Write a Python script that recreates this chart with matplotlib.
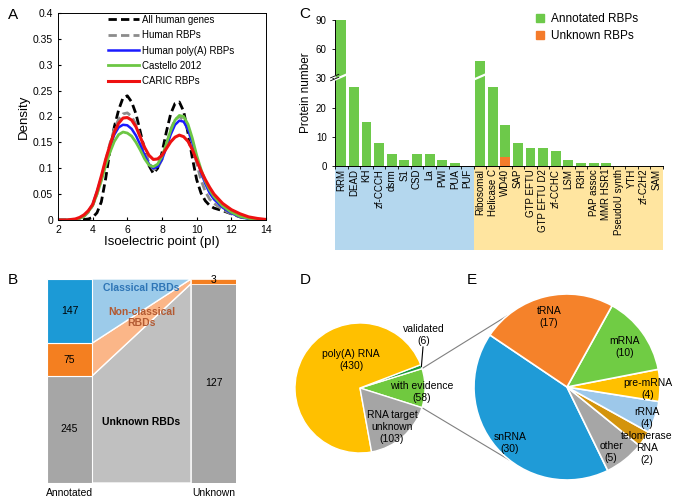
import matplotlib
matplotlib.use("Agg")
import matplotlib.pyplot as plt
import numpy as np
from matplotlib.patches import Patch, Rectangle, Polygon
import matplotlib.transforms as mtransforms

plt.rcParams["font.family"] = ["Liberation Sans", "DejaVu Sans"]

W, H = 690, 503

# ---- A: density of isoelectric point
pi_x = [2, 2.5, 3, 3.25, 3.5, 3.75, 4, 4.25, 4.5, 4.75, 5, 5.25, 5.5, 5.75, 6, 6.25,
        6.5, 6.75, 7, 7.25, 7.5, 7.75, 8, 8.25, 8.5, 8.75, 9, 9.25, 9.5, 9.75, 10,
        10.25, 10.5, 10.75, 11, 11.5, 12, 12.5, 13, 13.5, 14]
dens_all = [0, 0, 0, 0, 0.001, 0.002, 0.005, 0.014, 0.035, 0.08, 0.135, 0.18, 0.213,
            0.236, 0.24, 0.228, 0.205, 0.17, 0.135, 0.105, 0.09, 0.1, 0.13, 0.17, 0.205,
            0.225, 0.228, 0.21, 0.168, 0.12, 0.078, 0.052, 0.037, 0.028, 0.023, 0.018,
            0.012, 0.006, 0.002, 0, 0]
dens_rbp = [0, 0, 0.001, 0.003, 0.007, 0.015, 0.028, 0.05, 0.08, 0.115, 0.148, 0.176,
            0.195, 0.205, 0.207, 0.2, 0.185, 0.16, 0.135, 0.11, 0.098, 0.1, 0.117, 0.145,
            0.175, 0.194, 0.2, 0.193, 0.175, 0.148, 0.11, 0.077, 0.055, 0.04, 0.032,
            0.02, 0.012, 0.006, 0.002, 0, 0]
dens_polya = [0, 0, 0.001, 0.003, 0.008, 0.017, 0.03, 0.055, 0.082, 0.113, 0.142, 0.165,
              0.179, 0.184, 0.183, 0.176, 0.163, 0.145, 0.125, 0.108, 0.1, 0.103, 0.117,
              0.14, 0.165, 0.184, 0.192, 0.19, 0.175, 0.15, 0.12, 0.092, 0.07, 0.052,
              0.04, 0.024, 0.013, 0.006, 0.002, 0, 0]
dens_castello = [0, 0, 0.001, 0.003, 0.007, 0.016, 0.028, 0.05, 0.076, 0.105, 0.131,
                 0.152, 0.165, 0.17, 0.168, 0.162, 0.15, 0.135, 0.118, 0.106, 0.103,
                 0.108, 0.123, 0.147, 0.173, 0.193, 0.202, 0.2, 0.185, 0.158, 0.125,
                 0.098, 0.075, 0.058, 0.045, 0.027, 0.015, 0.007, 0.003, 0.001, 0]
dens_caric = [0, 0, 0.002, 0.005, 0.01, 0.018, 0.03, 0.055, 0.085, 0.117, 0.145, 0.17,
              0.187, 0.197, 0.198, 0.193, 0.18, 0.16, 0.14, 0.125, 0.117, 0.118, 0.125,
              0.138, 0.151, 0.16, 0.164, 0.161, 0.152, 0.136, 0.115, 0.095, 0.078,
              0.063, 0.05, 0.032, 0.02, 0.012, 0.006, 0.003, 0.001]

# ---- B: RBD composition
b_groups = ["Annotated", "Unknown"]
annotated_counts = [245, 75, 147]   # unknown RBD, non-classical, classical
unknown_counts = [127, 3, 0]

# ---- C: domain counts
classical_domains = ["RRM", "DEAD", "KH", "zf-CCCH", "dsrm", "S1", "CSD", "La",
                     "PWI", "PUA", "PUF"]
classical_annot = [90, 27, 15, 8, 4, 2, 4, 4, 2, 1, 0]
classical_unknown = [0, 0, 0, 0, 0, 0, 0, 0, 0, 0, 0]
other_domains = ["Ribosomal", "Helicase C", "WD40", "SAP", "GTP EFTU", "GTP EFTU D2",
                 "zf-CCHC", "LSM", "R3H", "PAP assoc", "MMR HSR1", "PseudoU synth",
                 "YTH", "zf-C2H2", "SAM"]
other_annot = [48, 27, 11, 8, 6, 6, 5, 2, 1, 1, 1, 0, 0, 0, 0]
other_unknown = [0, 0, 3, 0, 0, 0, 0, 0, 0, 0, 0, 0, 0, 0, 0]

# ---- D / E: RNA targets
d_labels = ["with evidence\n(58)", "", "poly(A) RNA\n(430)", "RNA target\nunknown\n(103)"]
d_values = [58, 6, 430, 103]
e_labels = ["snRNA", "other", "telomerase\nRNA", "rRNA", "pre-mRNA", "mRNA", "tRNA"]
e_values = [30, 5, 2, 4, 4, 10, 17]


def px_axes(fig, l, t, r, b):
    return fig.add_axes([l / W, 1 - b / H, (r - l) / W, (b - t) / H])


fig = plt.figure(figsize=(W / 100, H / 100), dpi=100)

# ================= A
ax = px_axes(fig, 58, 13, 266, 220)
ax.plot(pi_x, dens_all, color="black", ls=(0, (3, 1.5)), lw=2, label="All human genes")
ax.plot(pi_x, dens_rbp, color="#8c8c8c", ls=(0, (3, 1.5)), lw=2, label="Human RBPs")
ax.plot(pi_x, dens_polya, color="#1a1aff", lw=1.8, label="Human poly(A) RBPs")
ax.plot(pi_x, dens_castello, color="#6cc644", lw=2, label="Castello 2012")
ax.plot(pi_x, dens_caric, color="#ee1111", lw=2.2, label="CARIC RBPs")
ax.set_xlim(2, 14)
ax.set_ylim(0, 0.4)
ax.set_xticks(range(2, 15, 2))
ax.set_yticks(np.arange(0, 0.41, 0.05))
ax.set_yticklabels(["0", "0.05", "0.1", "0.15", "0.2", "0.25", "0.3", "0.35", "0.4"])
ax.tick_params(labelsize=7.5, length=2.5, direction="in")
ax.set_xlabel("Isoelectric point (pI)", fontsize=9.5, labelpad=1)
ax.set_ylabel("Density", fontsize=9.5, labelpad=2)
for s in ax.spines.values():
    s.set_linewidth(0.7)
ax.legend(loc="upper left", bbox_to_anchor=(0.22, 1.01), frameon=False, fontsize=7,
          handlelength=3.2, handletextpad=0.3, labelspacing=0.55, borderaxespad=0)

# ================= B
axb = px_axes(fig, 47, 279, 236, 483)
axb.set_xlim(0, 4.2)
axb.set_ylim(0, 1)
axb.axis("off")
a_frac = np.cumsum([0] + annotated_counts) / sum(annotated_counts)
u_frac = np.cumsum([0] + unknown_counts) / sum(unknown_counts)
bar_cols = ["#a6a6a6", "#f47f20", "#1c9ad6"]
band_cols = ["#c0c0c0", "#fbb688", "#9ccbea"]
x0, x1, x2, x3 = 0, 1, 3.2, 4.2
for i in range(3):
    axb.add_patch(Polygon([(x1, a_frac[i]), (x2, u_frac[i]), (x2, u_frac[i + 1]),
                           (x1, a_frac[i + 1])], closed=True, fc=band_cols[i],
                          ec="white", lw=1))
for i in range(3):
    axb.add_patch(Rectangle((x0, a_frac[i]), x1 - x0, a_frac[i + 1] - a_frac[i],
                            fc=bar_cols[i], ec="white", lw=0.8))
    if unknown_counts[i] > 0:
        axb.add_patch(Rectangle((x2, u_frac[i]), x3 - x2, u_frac[i + 1] - u_frac[i],
                                fc=bar_cols[i], ec="white", lw=0.5))
for i in range(3):
    axb.text((x0 + x1) / 2, (a_frac[i] + a_frac[i + 1]) / 2, str(annotated_counts[i]),
             ha="center", va="center", fontsize=7.5)
axb.text((x2 + x3) / 2, (u_frac[0] + u_frac[1]) / 2, str(unknown_counts[0]),
         ha="center", va="center", fontsize=7.5)
axb.text((x2 + x3) / 2, (u_frac[1] + u_frac[2]) / 2 + 0.005, str(unknown_counts[1]),
         ha="center", va="center", fontsize=7.5)
axb.text(2.1, 0.955, "Classical RBDs", ha="center", va="center", fontsize=7.5,
         fontweight="bold", color="#2e75b6")
axb.text(2.1, 0.81, "Non-classical\nRBDs", ha="center", va="center", fontsize=7.5,
         fontweight="bold", color="#b35a32", linespacing=1.15)
axb.text(2.1, 0.3, "Unknown RBDs", ha="center", va="center", fontsize=7.5,
         fontweight="bold", color="black")
axb.text(0.5, -0.05, b_groups[0], ha="center", va="center", fontsize=7.5)
axb.text(3.7, -0.05, b_groups[1], ha="center", va="center", fontsize=7.5)

# ================= C
axc = px_axes(fig, 335, 20, 663, 166)


def brk(v):
    return v if v <= 30 else 30 + (v - 30) / 3.0


domains = classical_domains + other_domains
annot = classical_annot + other_annot
unknown = classical_unknown + other_unknown
xs = np.arange(len(domains))
tot = [a + u for a, u in zip(annot, unknown)]
u_h = [brk(u) for u in unknown]
g_h = [brk(t) - brk(u) for t, u in zip(tot, unknown)]
green = "#6dc94a"
orange = "#f47b2b"
axc.bar(xs, u_h, width=0.78, color=orange, zorder=2)
axc.bar(xs, g_h, bottom=u_h, width=0.78, color=green, zorder=2)
axc.set_xlim(-0.5, len(domains) - 0.5)
axc.set_ylim(0, 50)
axc.set_yticks([0, 10, 20, 30, 40, 50])
axc.set_yticklabels(["0", "10", "20", "30", "60", "90"])
axc.set_xticks(xs)
axc.set_xticklabels(domains, rotation=90, fontsize=7)
axc.set_xticks(np.arange(-0.5, len(domains)), minor=True)
axc.tick_params(axis="x", which="major", length=0, pad=2)
axc.tick_params(axis="x", which="minor", length=2.5, width=0.6)
axc.tick_params(axis="y", labelsize=7, length=2.5, width=0.6)
axc.spines["top"].set_visible(False)
axc.spines["right"].set_visible(False)
for s in ("left", "bottom"):
    axc.spines[s].set_linewidth(0.7)
axc.set_ylabel("Protein number", fontsize=8.5, labelpad=3)
# broken axis marks
for xi in (0, len(classical_domains)):
    axc.plot([xi - 0.5, xi + 0.45], [29.6, 31.4], color="white", lw=1.6, zorder=3,
             clip_on=False)
axc.plot([-0.85, -0.2], [30.2, 31.4], color="black", lw=0.6, clip_on=False, zorder=4)
axc.plot([-0.85, -0.2], [29.2, 30.4], color="black", lw=0.6, clip_on=False, zorder=4)
axc.plot([-0.5, -0.5], [29.7, 30.9], color="white", lw=1.2, clip_on=False, zorder=3.5)
trans = mtransforms.blended_transform_factory(axc.transData, axc.transAxes)
nc = len(classical_domains)
axc.add_patch(Rectangle((-0.5, -0.575), nc, 0.575, transform=trans, fc="#b4d7ee",
                        ec="none", clip_on=False, zorder=0))
axc.add_patch(Rectangle((nc - 0.5, -0.575), len(other_domains), 0.575, transform=trans,
                        fc="#ffe5a0", ec="none", clip_on=False, zorder=0))
axc.legend(handles=[Patch(color=green, label="Annotated RBPs"),
                    Patch(color=orange, label="Unknown RBPs")],
           loc="upper left", bbox_to_anchor=(0.58, 1.12), frameon=False, fontsize=8.5,
           handlelength=0.7, handleheight=0.7, handletextpad=0.6, labelspacing=0.45)

# ================= D / E
axp = px_axes(fig, 260, 270, 690, 503)
cD, rD = (360, 503 - 388), 65
cE, rE = (567, 503 - 387), 93
d_cols = ["#70c93f", "#1a9a3c", "#ffc000", "#a5a5a5"]
wd, _ = axp.pie(d_values, colors=d_cols, startangle=-17.6, counterclock=True,
                center=cD, radius=rD, wedgeprops=dict(ec="white", lw=1))
e_cols = ["#1f9bd7", "#a6a6a6", "#d4940c", "#9dc8ea", "#ffc000", "#70cc44", "#f5822a"]
we, _ = axp.pie(e_values, colors=e_cols, startangle=146, counterclock=True,
                center=cE, radius=rE, wedgeprops=dict(ec="white", lw=1.2))
axp.set_xlim(260, 690)
axp.set_ylim(0, 233)
axp.set_aspect("equal", adjustable="datalim")
axp.axis("off")

# connector lines from "with evidence" slice to the E pie
t1, t2 = np.deg2rad(wd[0].theta1), np.deg2rad(wd[0].theta2)
for td, te in ((t2, np.deg2rad(130)), (t1, np.deg2rad(232))):
    axp.plot([cD[0] + rD * np.cos(td), cE[0] + rE * np.cos(te)],
             [cD[1] + rD * np.sin(td), cE[1] + rE * np.sin(te)],
             color="#808080", lw=0.8, zorder=0)
tv = np.deg2rad((wd[1].theta1 + wd[1].theta2) / 2)
axp.plot([cD[0] + rD * np.cos(tv), 423], [cD[1] + rD * np.sin(tv), 503 - 347],
         color="black", lw=0.8)

fs = 7.5
axp.text(422, 503 - 392, d_labels[0], ha="center", va="center", fontsize=fs)
axp.text(424, 503 - 335, "validated\n(6)", ha="center", va="center", fontsize=fs)
axp.text(351, 503 - 360, d_labels[2], ha="center", va="center", fontsize=fs)
axp.text(392, 503 - 427, d_labels[3], ha="center", va="center", fontsize=fs)

e_pos = [(510, 443), (611, 452), (647, 448), (647, 418), (648, 389), (625, 347), (549, 317)]
for lab, v, (px, py) in zip(e_labels, e_values, e_pos):
    axp.text(px, 503 - py, f"{lab}\n({v})", ha="center", va="center", fontsize=fs)

# panel letters
for letter, (lx, ly) in zip("ABCDE", [(13, 15), (13, 280), (305, 14), (305, 280), (472, 280)]):
    fig.text(lx / W, 1 - ly / H, letter, fontsize=11, ha="center", va="center")

fig.savefig("out.png", dpi=100)
